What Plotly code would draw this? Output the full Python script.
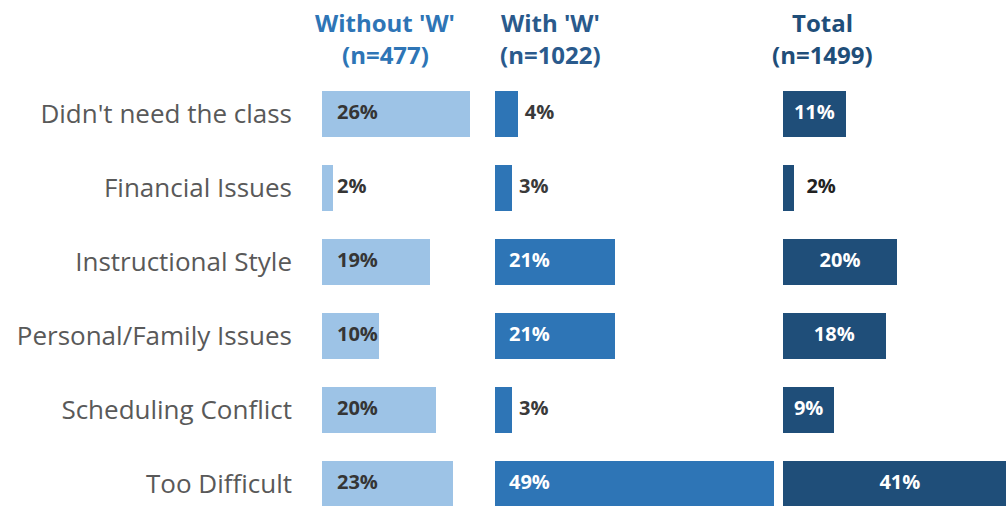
import plotly.graph_objects as go
from plotly.subplots import make_subplots

# Reasons for not completing the class, share of respondents (%)
categories = ["Didn't need the class", "Financial Issues", "Instructional Style",
              "Personal/Family Issues", "Scheduling Conflict", "Too Difficult"]
without_w = [26, 2, 19, 10, 20, 23]
with_w = [4, 3, 21, 21, 3, 49]
total = [11, 2, 20, 18, 9, 41]

group_titles = ["Without 'W'", "With 'W'", "Total"]
group_counts = ["(n=477)", "(n=1022)", "(n=1499)"]

W, H = 1006, 506
ML, MT = 322, 77
PX_PER_PCT = 5.7
ROW_PX = 74.0
col_px = [173, 288, 223]

bar_colors = ["#9DC3E6", "#2E75B6", "#1F4E79"]
head_colors = ["#2E75B6", "#2A5A8C", "#1F4E79"]
FONT = "Open Sans"
LABEL_SIZE = 20

fig = make_subplots(rows=1, cols=3, shared_yaxes=True, horizontal_spacing=0,
                    column_widths=col_px)

series = [without_w, with_w, total]
for i, vals in enumerate(series):
    fig.add_trace(go.Bar(x=vals, y=categories, orientation="h",
                         marker=dict(color=bar_colors[i], line=dict(width=0)),
                         width=0.62, hoverinfo="skip"), row=1, col=i + 1)


def pad(px):
    return px / PX_PER_PCT


# panel 1: labels sit at a fixed offset from the baseline
fig.add_trace(go.Scatter(x=[pad(15)] * len(without_w), y=categories, mode="text",
                         text=[f"{v}%" for v in without_w], textposition="middle right",
                         textfont=dict(family=FONT, size=LABEL_SIZE, color="#353535",
                                       weight="bold"),
                         hoverinfo="skip"), row=1, col=1)
# panel 2: inside at the base, or just past the end of short bars
x2 = [pad(14) if v >= 5 else v + pad(7) for v in with_w]
c2 = ["white" if v >= 5 else "#3A3A3A" for v in with_w]
fig.add_trace(go.Scatter(x=x2, y=categories, mode="text",
                         text=[f"{v}%" for v in with_w], textposition="middle right",
                         textfont=dict(family=FONT, size=LABEL_SIZE, color=c2, weight="bold"),
                         hoverinfo="skip"), row=1, col=2)
# panel 3: centred inside, or past the end of short bars
x3 = [v / 2 if v >= 5 else v + pad(12) for v in total]
p3 = ["middle center" if v >= 5 else "middle right" for v in total]
c3 = ["white" if v >= 5 else "#222222" for v in total]
fig.add_trace(go.Scatter(x=x3, y=categories, mode="text",
                         text=[f"{v}%" for v in total], textposition=p3,
                         textfont=dict(family=FONT, size=LABEL_SIZE, color=c3, weight="bold"),
                         hoverinfo="skip"), row=1, col=3)

for i in range(3):
    fig.update_xaxes(range=[0, col_px[i] / PX_PER_PCT], visible=False,
                     showgrid=False, zeroline=False, row=1, col=i + 1)

plot_h = H - MT
top_val = -0.5
bottom_val = top_val + plot_h / ROW_PX
fig.update_yaxes(categoryorder="array", categoryarray=categories,
                 range=[bottom_val, top_val], showgrid=False, zeroline=False,
                 showline=False, ticks="")
fig.update_yaxes(showticklabels=True, ticklabelstandoff=29,
                 tickfont=dict(family=FONT, size=26, color="#595959"), row=1, col=1)

# Column headers
centers = [385, 550, 822]
for i in range(3):
    xp = (centers[i] - ML) / (W - ML)
    for line, py in ((group_titles[i], 22), (group_counts[i], 55)):
        fig.add_annotation(x=xp, y=1 + (MT - py) / plot_h, xref="paper", yref="paper",
                           text=f"<b>{line}</b>", showarrow=False,
                           xanchor="center", yanchor="middle",
                           font=dict(family=FONT, size=24, color=head_colors[i]))

fig.update_layout(width=W, height=H, margin=dict(l=ML, r=0, t=MT, b=0),
                  plot_bgcolor="white", paper_bgcolor="white", showlegend=False,
                  bargap=0)

fig.write_html("out.html")
